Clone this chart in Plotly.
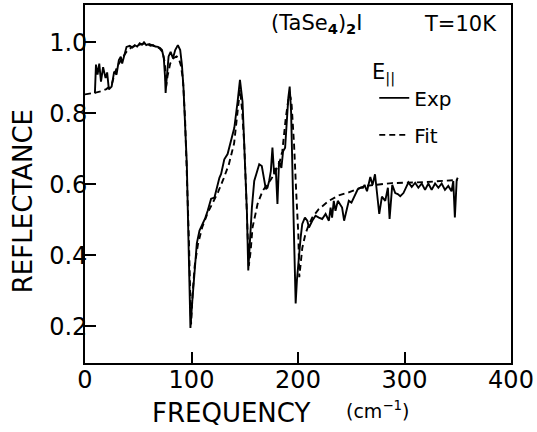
import plotly.graph_objects as go

# Experimental reflectance (solid)
exp_freq = [9.3, 10.3, 11.8, 13.4, 15.0, 17.0, 19.3, 20.8, 22.4, 25.0, 27.4, 29.6, 31.8, 33.6, 34.9,
            36.7, 39.0, 42.0, 44.5, 46.7, 49.0, 51.4, 53.5, 55.4, 57.5, 59.2, 61.5, 63.8, 66.0, 68.5,
            70.5, 72.3, 74.0, 75.2, 75.7, 76.5, 77.3, 78.5, 80.4, 82.6, 84.7, 87.2, 89.4, 91.0, 92.5,
            93.5, 94.4, 95.6, 96.6, 97.5, 98.3, 99.0, 100.6, 102.8, 105.0, 107.5, 110.6, 113.0, 115.2,
            118.4, 121.5, 124.6, 126.2, 127.8, 130.8, 133.9, 137.0, 140.2, 143.3, 145.5, 147.9, 150.5,
            152.0, 153.3, 154.8, 156.7, 158.9, 161.0, 163.6, 166.0, 168.2, 169.8, 171.3, 172.9, 174.5,
            176.0, 177.6, 179.1, 180.7, 182.2, 184.4, 186.0, 187.9, 189.4, 190.9, 192.2, 193.5, 195.3,
            196.6, 197.8, 199.0, 200.3, 202.5, 204.0, 206.5, 208.7, 210.3, 213.4, 216.5, 219.6, 222.7,
            225.9, 229.0, 230.6, 232.0, 233.6, 235.2, 237.4, 239.3, 241.4, 243.3, 245.5, 247.7, 250.2,
            252.3, 254.0, 256.0, 258.6, 261.0, 262.5, 264.8, 267.9, 270.0, 272.3, 274.5, 276.3, 278.8,
            281.9, 284.4, 286.0, 288.5, 291.3, 293.7, 296.0, 299.0, 301.2, 303.7, 306.8, 310.0, 313.0,
            316.2, 319.3, 322.4, 325.5, 328.7, 331.8, 334.9, 338.0, 341.1, 344.2, 345.8, 347.3, 349.0,
            350.0]
exp_refl = [0.856, 0.937, 0.909, 0.940, 0.889, 0.930, 0.899, 0.915, 0.867, 0.875, 0.917, 0.909, 0.950,
            0.959, 0.940, 0.964, 0.987, 0.990, 0.985, 0.992, 0.988, 0.997, 0.993, 1.000, 0.992, 0.994,
            0.990, 0.992, 0.988, 0.987, 0.984, 0.978, 0.955, 0.900, 0.857, 0.890, 0.927, 0.960, 0.973,
            0.955, 0.978, 0.992, 0.978, 0.936, 0.870, 0.805, 0.770, 0.657, 0.517, 0.377, 0.270, 0.195,
            0.265, 0.357, 0.433, 0.469, 0.489, 0.505, 0.525, 0.559, 0.562, 0.601, 0.618, 0.629, 0.670,
            0.685, 0.721, 0.759, 0.833, 0.894, 0.833, 0.665, 0.525, 0.357, 0.441, 0.534, 0.609, 0.628,
            0.656, 0.651, 0.618, 0.586, 0.590, 0.609, 0.637, 0.703, 0.628, 0.646, 0.544, 0.665, 0.646,
            0.693, 0.703, 0.777, 0.843, 0.875, 0.805, 0.572, 0.400, 0.264, 0.330, 0.385, 0.450, 0.488,
            0.506, 0.497, 0.478, 0.497, 0.511, 0.506, 0.502, 0.516, 0.497, 0.534, 0.506, 0.553, 0.525,
            0.553, 0.544, 0.534, 0.497, 0.525, 0.553, 0.548, 0.560, 0.572, 0.585, 0.590, 0.590, 0.598,
            0.580, 0.620, 0.598, 0.628, 0.562, 0.516, 0.565, 0.553, 0.590, 0.502, 0.598, 0.575, 0.572,
            0.566, 0.575, 0.590, 0.605, 0.592, 0.604, 0.590, 0.602, 0.584, 0.602, 0.584, 0.602, 0.590,
            0.602, 0.584, 0.595, 0.580, 0.609, 0.506, 0.612, 0.618]

# Fit (dashed)
fit_freq = [0, 5, 10, 15, 20, 25, 28, 31, 35, 40, 45, 50, 55, 60, 65, 70, 73, 75, 76.2, 77.5, 80, 83,
            86, 88, 90, 92, 94, 96, 97.5, 98.8, 99.6, 101, 103, 106, 110, 115, 120, 125, 130, 135, 140,
            143, 145.5, 147.5, 149.5, 151, 152.5, 153.8, 155.5, 157.3, 160, 162, 166.7, 170, 175, 179,
            183, 185.3, 188.5, 191.6, 193, 194, 196.3, 198.4, 200.3, 201.2, 202.5, 204, 207, 210, 213.4,
            219.6, 229, 238, 247.7, 263, 288, 320, 350]
fit_refl = [0.853, 0.855, 0.858, 0.862, 0.868, 0.880, 0.913, 0.936, 0.955, 0.978, 0.988, 0.993, 0.996,
            0.995, 0.990, 0.983, 0.972, 0.940, 0.875, 0.905, 0.940, 0.955, 0.960, 0.955, 0.935, 0.895,
            0.780, 0.620, 0.450, 0.290, 0.205, 0.290, 0.370, 0.430, 0.478, 0.518, 0.548, 0.578, 0.615,
            0.655, 0.715, 0.790, 0.866, 0.810, 0.713, 0.600, 0.470, 0.370, 0.410, 0.478, 0.515, 0.544,
            0.581, 0.595, 0.615, 0.637, 0.665, 0.693, 0.786, 0.852, 0.845, 0.824, 0.712, 0.572, 0.460,
            0.338, 0.380, 0.420, 0.460, 0.485, 0.506, 0.530, 0.553, 0.568, 0.577, 0.595, 0.603, 0.606,
            0.612]

x_ticks = [0, 100, 200, 300, 400]
y_ticks = [0.2, 0.4, 0.6, 0.8, 1.0]

FONT = "DejaVu Sans"

fig = go.Figure()
fig.add_trace(go.Scatter(x=exp_freq, y=exp_refl, mode="lines", name="Exp", legendgroup="a",
                         line=dict(color="black", width=1.9)))
fig.add_trace(go.Scatter(x=fit_freq, y=fit_refl, mode="lines", name="Fit", legendgroup="b",
                         line=dict(color="black", width=1.9, dash="6px,4px")))

axis_common = dict(showline=True, mirror=True, linecolor="black", linewidth=1.6,
                   ticks="inside", ticklen=11, tickwidth=1.6, tickcolor="black",
                   showgrid=False, zeroline=False,
                   tickfont=dict(family=FONT, size=24, color="black"))

def ann(text, x, y, size, **kw):
    return dict(text=text, xref="paper", yref="paper", x=x, y=y, xanchor="center",
                yanchor="middle", showarrow=False,
                font=dict(family=FONT, size=size, color="black"), **kw)

fig.update_layout(
    width=537, height=432,
    margin=dict(l=85, r=24, t=3, b=69),
    paper_bgcolor="white", plot_bgcolor="white",
    xaxis=dict(range=[0, 400], tickvals=x_ticks, ticktext=[str(v) for v in x_ticks],
               ticklabelstandoff=-6, **axis_common),
    yaxis=dict(range=[0.096, 1.105], tickvals=y_ticks, ticktext=["%.1f" % v for v in y_ticks],
               ticklabelstandoff=-9, **axis_common),
    showlegend=True,
    legend=dict(x=0.679, y=0.795, xanchor="left", yanchor="top", bgcolor="rgba(0,0,0,0)",
                font=dict(family=FONT, size=20, color="black"), itemwidth=30,
                traceorder="grouped", tracegroupgap=8),
    annotations=[
        ann("REFLECTANCE", -0.147, 0.453, 26, textangle=-90),
        ann("FREQUENCY", 0.343, -0.141, 26),
        ann("(cm<sup>−1</sup>)", 0.687, -0.131, 19),
        ann("(TaSe<sub><b>4</b></sub>)<sub><b>2</b></sub>I", 0.544, 0.948, 21),
        ann("T=10K", 0.881, 0.948, 21),
        ann("E<sub>||</sub>", 0.70, 0.81, 21),
    ],
)

fig.write_html("out.html", config={"displayModeBar": False},
               post_script="document.body.style.margin='0';")
